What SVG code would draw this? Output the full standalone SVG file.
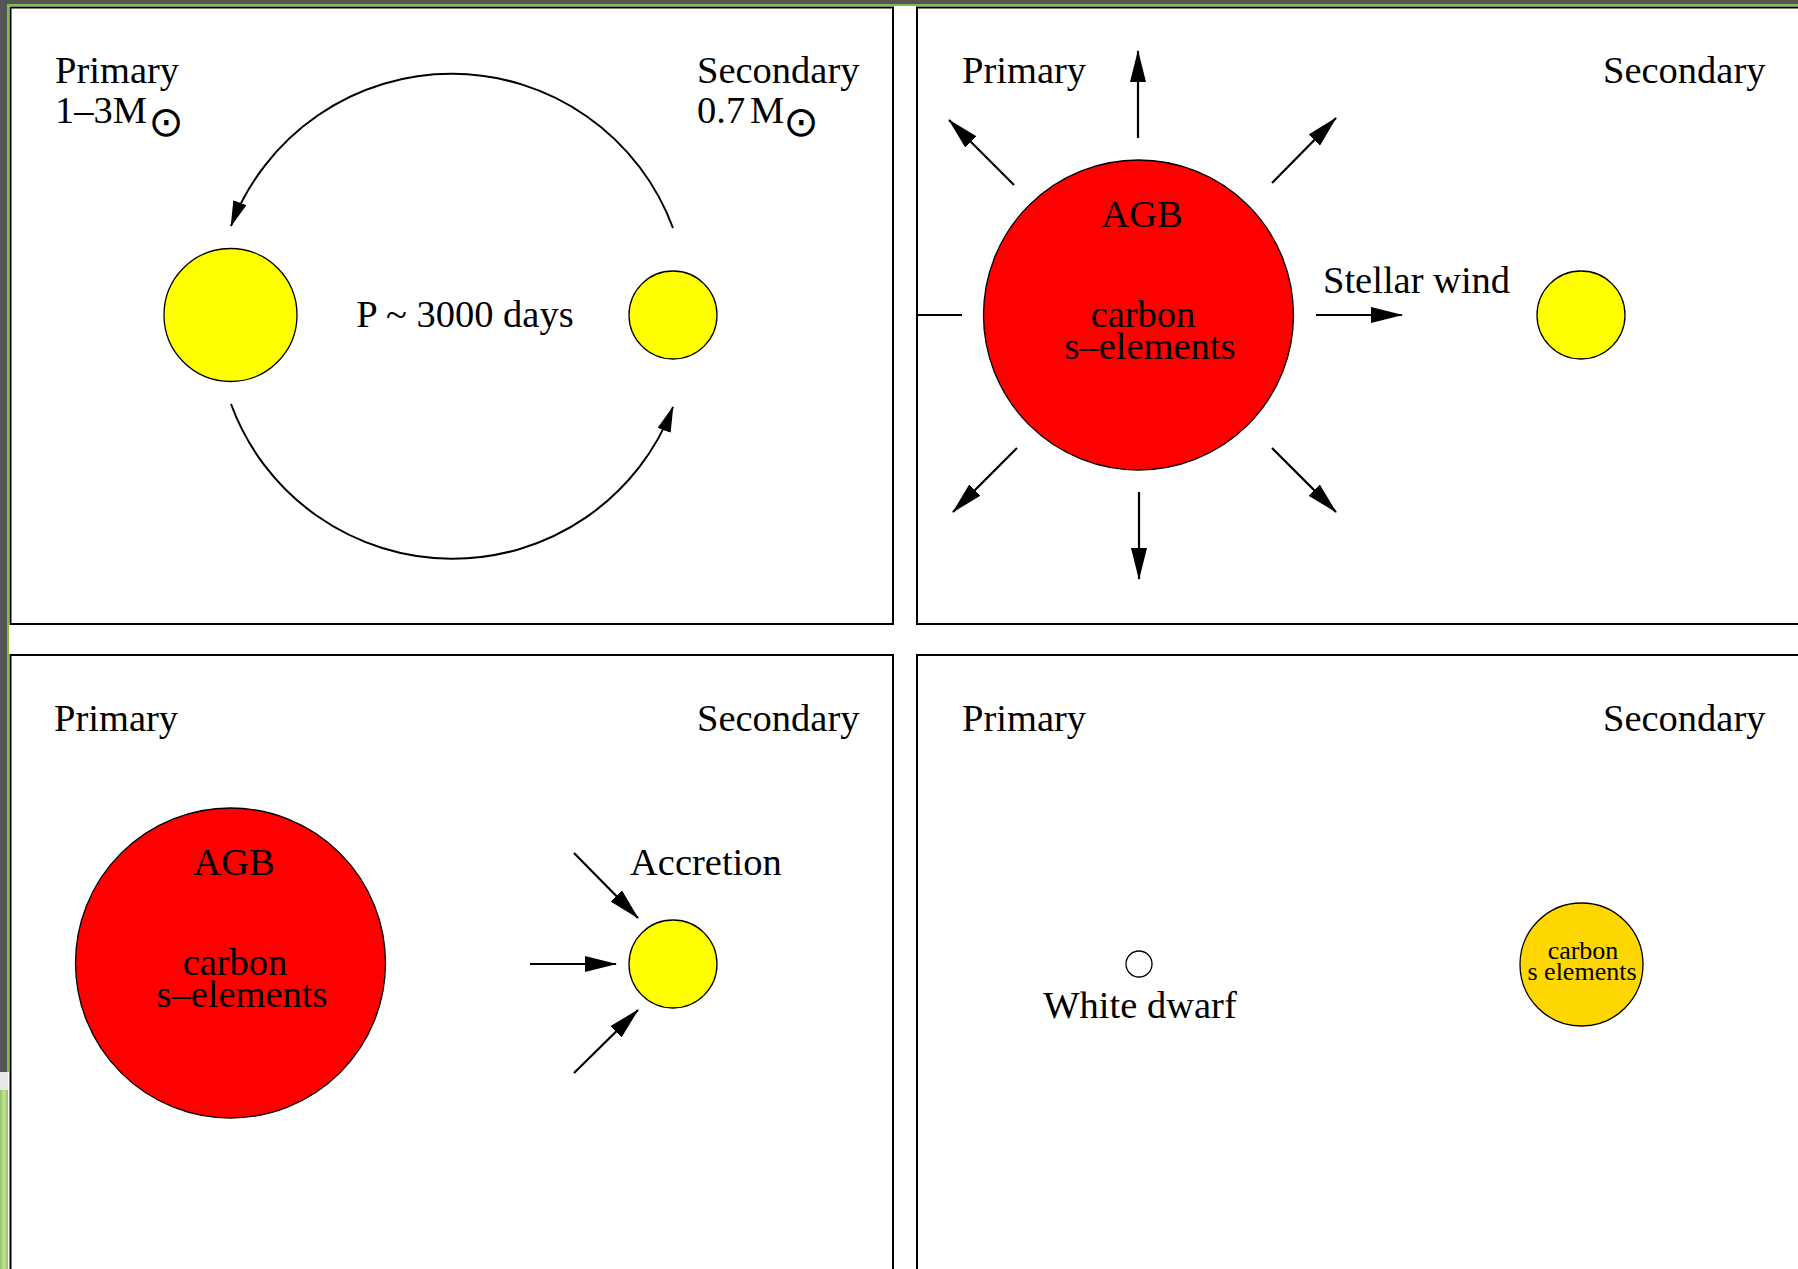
<svg xmlns="http://www.w3.org/2000/svg" width="1798" height="1269" viewBox="0 0 1798 1269">
<defs>
<marker id="ah" markerUnits="userSpaceOnUse" markerWidth="32" markerHeight="16" refX="31" refY="8" orient="auto"><path d="M0,0 L32,8 L0,16 z" fill="#000"/></marker>
<marker id="ahs" markerUnits="userSpaceOnUse" markerWidth="26" markerHeight="14" refX="25" refY="7" orient="auto"><path d="M0,0 L26,7 L0,14 z" fill="#000"/></marker>
<linearGradient id="gr" x1="0" y1="0" x2="1" y2="0"><stop offset="0" stop-color="#8fc656"/><stop offset="0.5" stop-color="#c4e29f"/><stop offset="1" stop-color="#8fc656"/></linearGradient>
</defs>
<style>
.t{font-family:"Liberation Serif","Times New Roman",serif;font-size:38.5px;fill:#000}
.ts{font-family:"Liberation Serif","Times New Roman",serif;font-size:26px;fill:#000}
.sun{font-family:"DejaVu Sans",sans-serif;font-size:42px;fill:#000}
.panel{fill:#fff;stroke:#000;stroke-width:2}
.star{stroke:#000;stroke-width:1.3}
.yel{fill:#ffff00}
.red{fill:#ff0000}
.arr{stroke:#000;stroke-width:2.2;fill:none;marker-end:url(#ah)}
.arc{stroke:#000;stroke-width:2;fill:none;marker-end:url(#ahs)}
</style>
<rect x="0" y="0" width="1798" height="1269" fill="#fff"/>
<rect x="0" y="0" width="1798" height="4" fill="#555"/>
<rect x="0" y="4" width="1798" height="2" fill="#7cc142"/>
<rect x="0" y="0" width="7" height="1072" fill="#555"/>
<rect x="7" y="4" width="2" height="1068" fill="#7cc142"/>
<rect x="0" y="1072" width="8" height="18" fill="#e8e8e8"/>
<rect x="0" y="1090" width="8" height="179" fill="url(#gr)"/>

<g id="panels">
<rect class="panel" x="10.5" y="7.5" width="882.5" height="616.5"/>
<rect class="panel" x="917" y="7.5" width="900" height="616.5"/>
<rect class="panel" x="10.5" y="655" width="882.5" height="640"/>
<rect class="panel" x="917" y="655" width="900" height="640"/>
</g>

<g id="connectors">
<path class="arc" d="M673,228 A236,236 0 0 0 231,226"/>
<path class="arc" d="M231,404 A236,236 0 0 0 673,407"/>
<line class="arr" x1="1138" y1="138" x2="1138" y2="51"/>
<line class="arr" x1="1014" y1="185" x2="949" y2="120"/>
<line class="arr" x1="1272" y1="183" x2="1336" y2="118"/>
<line class="arr" x1="1017" y1="448" x2="953" y2="512"/>
<line class="arr" x1="1139" y1="492" x2="1139" y2="579"/>
<line class="arr" x1="1272" y1="448" x2="1336" y2="512"/>
<line x1="917" y1="315" x2="962" y2="315" stroke="#000" stroke-width="2"/>
<line class="arr" x1="1316" y1="315" x2="1402" y2="315"/>
<line class="arr" x1="574" y1="853" x2="638" y2="918"/>
<line class="arr" x1="530" y1="964" x2="616" y2="964"/>
<line class="arr" x1="574" y1="1073" x2="638" y2="1010"/>
</g>

<g id="p1-primary">
<text class="t" x="55" y="83">Primary</text>
<text class="t" x="55" y="123">1–3M</text>
<text class="sun" x="166" y="136" text-anchor="middle">⊙</text>
<circle class="star yel" cx="230.5" cy="315" r="66.5"/>
</g>
<g id="p1-secondary">
<text class="t" x="697" y="83">Secondary</text>
<text class="t" x="697" y="123">0.7<tspan x="750">M</tspan></text>
<text class="sun" x="801" y="136" text-anchor="middle">⊙</text>
<circle class="star yel" cx="673" cy="315" r="44"/>
</g>
<g id="p1-period">
<text class="t" x="465" y="327" text-anchor="middle">P ~ 3000 days</text>
</g>

<g id="p2-primary">
<text class="t" x="962" y="83">Primary</text>
<circle class="star red" cx="1138.5" cy="315" r="155"/>
<text class="t" x="1142" y="227" text-anchor="middle">AGB</text>
<text class="t" x="1143" y="327" text-anchor="middle">carbon</text>
<text class="t" x="1150" y="359" text-anchor="middle">s–elements</text>
</g>
<g id="p2-wind"><text class="t" x="1323" y="293">Stellar wind</text></g>
<g id="p2-secondary">
<text class="t" x="1603" y="83">Secondary</text>
<circle class="star yel" cx="1581" cy="315" r="44"/>
</g>

<g id="p3-primary">
<text class="t" x="54" y="731">Primary</text>
<circle class="star red" cx="230.5" cy="963" r="155"/>
<text class="t" x="234" y="875" text-anchor="middle">AGB</text>
<text class="t" x="235" y="975" text-anchor="middle">carbon</text>
<text class="t" x="242" y="1007" text-anchor="middle">s–elements</text>
</g>
<g id="p3-secondary">
<text class="t" x="697" y="731">Secondary</text>
<circle class="star yel" cx="673" cy="964" r="44"/>
<text class="t" x="630" y="875">Accretion</text>
</g>

<g id="p4-primary">
<text class="t" x="962" y="731">Primary</text>
<circle class="star" cx="1139" cy="964" r="13" fill="#fff"/>
<text class="t" x="1140" y="1018" text-anchor="middle">White dwarf</text>
</g>
<g id="p4-secondary">
<text class="t" x="1603" y="731">Secondary</text>
<circle class="star" cx="1581.5" cy="964.5" r="61.5" fill="#ffd700"/>
<text class="ts" x="1583" y="959" text-anchor="middle">carbon</text>
<text class="ts" x="1582" y="980" text-anchor="middle">s elements</text>
</g>
</svg>
